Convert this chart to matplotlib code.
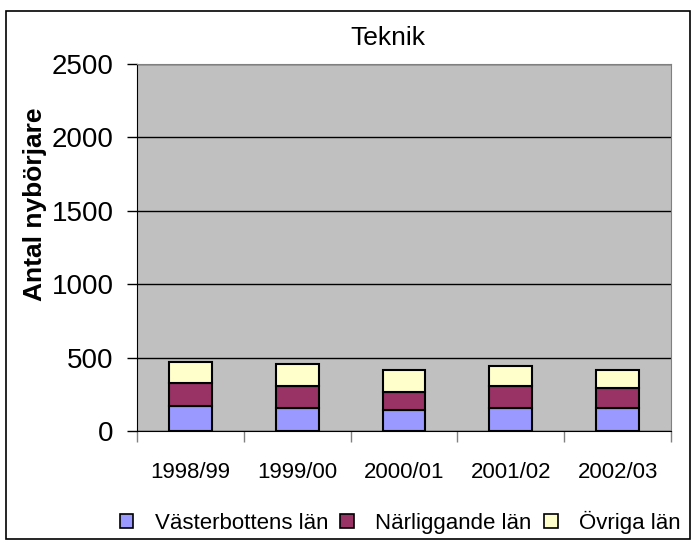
import matplotlib.pyplot as plt
from matplotlib.patches import Patch, Rectangle
import numpy as np

# data
years = ['1998/99', '1999/00', '2000/01', '2001/02', '2002/03']
vasterbotten = [170, 155, 141, 155, 155]
narliggande = [160, 150, 124, 150, 136]
ovriga = [139, 151, 148, 139, 122]
series_names = ['Västerbottens län', 'Närliggande län', 'Övriga län']
series_colors = ['#9999FF', '#993366', '#FFFFCC']

plt.rcParams['font.family'] = ['Liberation Sans', 'DejaVu Sans']

fig = plt.figure(figsize=(6.92, 5.4), dpi=100)
ax = fig.add_axes([137 / 692, 1 - 431 / 540, 534 / 692, 367 / 540])
ax.set_facecolor('#C0C0C0')

x = np.arange(len(years))
bottom = np.zeros(len(years))
for vals, col in zip([vasterbotten, narliggande, ovriga], series_colors):
    ax.bar(x, vals, width=0.4, bottom=bottom, color=col, edgecolor='black',
           linewidth=1.5, zorder=3)
    bottom += np.array(vals)

ax.set_xlim(-0.5, len(years) - 0.5)
ax.set_ylim(0, 2500)
ax.set_yticks(np.arange(0, 2501, 500))
ax.yaxis.grid(True, color='black', linewidth=1)
ax.set_axisbelow(True)
ax.tick_params(axis='y', labelsize=20, length=7, width=1, pad=10)

# category labels without ticks, ticks between categories
ax.set_xticks(x)
ax.set_xticklabels(years, fontsize=16)
ax.tick_params(axis='x', length=0, pad=22)
ax.set_xticks(np.arange(-0.5, len(years)), minor=True)
ax.tick_params(axis='x', which='minor', length=8, width=1, color='#808080')

for side in ['top', 'right']:
    ax.spines[side].set_color('#808080')
ax.spines['left'].set_color('black')
ax.spines['bottom'].set_color('black')

fig.text(388 / 692, 1 - 38 / 540, 'Teknik', ha='center', va='center', fontsize=19)
fig.text(35 / 692, 1 - 204 / 540, 'Antal nybörjare', rotation=90, ha='center',
         va='center', fontsize=19, fontweight='bold')

handles = [Patch(facecolor=c, edgecolor='black', linewidth=1.2) for c in series_colors]
fig.legend(handles, series_names, loc='center', bbox_to_anchor=(400 / 692, 1 - 522 / 540),
           ncol=3, frameon=False, fontsize=16, handlelength=0.62, handleheight=0.62,
           columnspacing=0.55, handletextpad=0.95, borderpad=0)

fig.patches.append(Rectangle((6 / 692, 1 / 540), 684 / 692, 528 / 540,
                             transform=fig.transFigure, fill=False,
                             edgecolor='black', linewidth=1.2))

fig.savefig('out.png', dpi=100)
